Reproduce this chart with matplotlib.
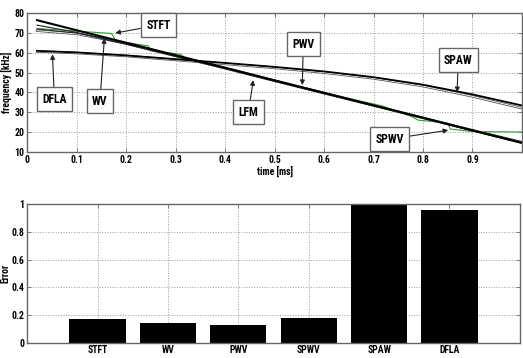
import matplotlib
matplotlib.use("Agg")
import matplotlib.pyplot as plt
from matplotlib import font_manager

# narrow bold font like the old MATLAB figure export, whichever is installed
names = {f.name for f in font_manager.fontManager.ttflist}
prefs = ['Liberation Sans Narrow', 'DejaVu Sans Condensed', 'Roboto Condensed',
         'Liberation Sans', 'Roboto']
FAM = [n for n in prefs if n in names][:1]
plt.rcParams['font.family'] = FAM + ['DejaVu Sans']
plt.rcParams['font.weight'] = 'bold'
plt.rcParams['axes.labelweight'] = 'bold'

# ---- instantaneous frequency estimates (time in ms, frequency in kHz)
t = [0.02, 0.1, 0.2, 0.3, 0.4, 0.5, 0.6, 0.7, 0.8, 0.9, 1.0]
lfm = [76.5, 71.4, 65.1, 58.8, 52.5, 46.1, 39.8, 33.5, 27.2, 20.8, 14.5]
wv = [74.0, 70.3, 64.3, 58.2, 52.0, 45.6, 39.4, 33.2, 27.0, 20.6, 14.3]
pwv = [71.2, 69.6, 64.8, 58.4, 52.2, 45.9, 39.6, 33.4, 27.1, 20.9, 14.8]
spwv = [72.0, 70.0, 64.6, 58.6, 52.3, 46.0, 39.7, 33.3, 27.3, 21.0, 15.0]
dfla = [61.0, 60.2, 58.7, 56.8, 54.9, 52.9, 50.6, 47.7, 43.9, 39.0, 33.4]
spaw = [60.7, 59.9, 58.4, 56.4, 54.4, 52.4, 50.0, 47.1, 43.2, 38.0, 32.0]

stft_t = [0.02, 0.17, 0.18, 0.245, 0.25, 0.31, 0.32, 0.45, 0.55, 0.65,
          0.72, 0.78, 0.79, 0.85, 0.855, 0.90, 1.0]
stft_f = [72.3, 69.8, 66.0, 63.5, 61.0, 59.3, 57.0, 49.0, 43.0, 37.0,
          33.0, 27.5, 26.0, 24.5, 21.5, 20.2, 20.0]

# label, text position, arrow tip
notes = [
    ('STFT', (0.265, 74.0), (0.178, 70.0)),
    ('WV', (0.147, 35.6), (0.156, 67.4)),
    ('DFLA', (0.055, 36.6), (0.051, 59.3)),
    ('LFM', (0.447, 30.0), (0.457, 46.2)),
    ('PWV', (0.558, 64.4), (0.556, 43.7)),
    ('SPAW', (0.871, 56.3), (0.869, 40.1)),
    ('SPWV', (0.733, 16.4), (0.851, 20.9)),
]

# ---- error of each method
methods = ['STFT', 'WV', 'PWV', 'SPWV', 'SPAW', 'DFLA']
errors = [0.171, 0.145, 0.126, 0.176, 1.0, 0.959]

fig = plt.figure(figsize=(5.23, 3.58), dpi=100)
GRID = dict(color='#9a9a9a', linestyle=':', linewidth=0.7)
EDGE = '#666666'

ax1 = fig.add_axes([0.052, 0.576, 0.946, 0.387])
ax1.plot(t, pwv, color='#555555', lw=1.8)
ax1.plot(t, pwv, color='white', lw=0.6)
ax1.plot(t, spaw, color='#555555', lw=1.8)
ax1.plot(t, spaw, color='white', lw=0.6)
ax1.plot(stft_t, stft_f, color='#3a9a3a', lw=0.8)
ax1.plot(t, wv, color='#222222', lw=0.8)
ax1.plot(t, spwv, color='#222222', lw=0.7)
ax1.plot(t, lfm, color='black', lw=1.5)
ax1.plot(t, dfla, color='black', lw=1.3)
for label, xy_text, xy_tip in notes:
    ax1.annotate(label, xy=xy_tip, xytext=xy_text, fontsize=8.5,
                 ha='center', va='center',
                 bbox=dict(boxstyle='square,pad=0.45', fc='white', ec=EDGE, lw=1.0),
                 arrowprops=dict(arrowstyle='-|>', color='#222222', lw=0.8,
                                 mutation_scale=7, shrinkA=0, shrinkB=0))
ax1.set_xlim(0, 1)
ax1.set_ylim(10, 80)
# the last tick label falls off the figure edge, so it is left blank
ax1.set_xticks([0, 0.1, 0.2, 0.3, 0.4, 0.5, 0.6, 0.7, 0.8, 0.9, 1])
ax1.set_xticklabels(['0', '0.1', '0.2', '0.3', '0.4', '0.5', '0.6', '0.7', '0.8', '0.9', ''])
ax1.set_yticks(range(10, 81, 10))
ax1.grid(True, **GRID)
ax1.set_xlabel('time [ms]', fontsize=7, labelpad=1)
ax1.set_ylabel('frequency [kHz]', fontsize=7)
ax1.yaxis.set_label_coords(-0.031, 0.5)

ax2 = fig.add_axes([0.052, 0.043, 0.942, 0.386])
ax2.bar(range(1, len(methods) + 1), errors, width=0.8, color='black')
ax2.set_xlim(0, 7)
ax2.set_ylim(0, 1)
ax2.set_xticks(range(1, len(methods) + 1))
ax2.set_xticklabels(methods)
ax2.set_yticks([0, 0.2, 0.4, 0.6, 0.8, 1])
ax2.set_yticklabels(['0', '0.2', '0.4', '0.6', '0.8', '1'])
ax2.grid(True, **GRID)
ax2.set_axisbelow(True)
ax2.set_ylabel('Error', fontsize=7)
ax2.yaxis.set_label_coords(-0.033, 0.5)

for ax in (ax1, ax2):
    for s in ax.spines.values():
        s.set_color(EDGE)
        s.set_linewidth(1.0)
    ax.tick_params(direction='in', length=3, width=0.6, color=EDGE,
                   labelsize=7, pad=2, top=True, right=True)

fig.savefig('out.png', dpi=100)
